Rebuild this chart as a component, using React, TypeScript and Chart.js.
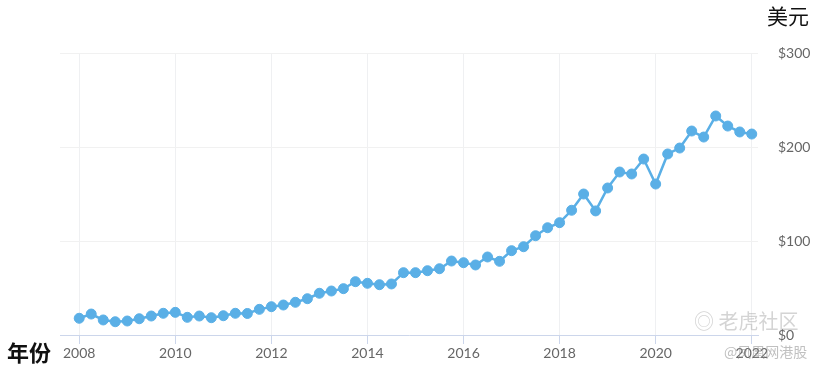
import React, { useEffect, useRef } from "react";
import { Chart, registerables } from "chart.js";

Chart.register(...registerables);

// Quarterly periods, 2008 Q1 .. 2022 Q1
const quarters: string[] = [
  "2008Q1","2008Q2","2008Q3","2008Q4",
  "2009Q1","2009Q2","2009Q3","2009Q4",
  "2010Q1","2010Q2","2010Q3","2010Q4",
  "2011Q1","2011Q2","2011Q3","2011Q4",
  "2012Q1","2012Q2","2012Q3","2012Q4",
  "2013Q1","2013Q2","2013Q3","2013Q4",
  "2014Q1","2014Q2","2014Q3","2014Q4",
  "2015Q1","2015Q2","2015Q3","2015Q4",
  "2016Q1","2016Q2","2016Q3","2016Q4",
  "2017Q1","2017Q2","2017Q3","2017Q4",
  "2018Q1","2018Q2","2018Q3","2018Q4",
  "2019Q1","2019Q2","2019Q3","2019Q4",
  "2020Q1","2020Q2","2020Q3","2020Q4",
  "2021Q1","2021Q2","2021Q3","2021Q4",
  "2022Q1",
];

// Price in US dollars
const prices: number[] = [
  17.8, 22.3, 16.0, 14.1, 14.9, 17.3, 20.2, 23.1,
  24.1, 18.8, 20.2, 18.4, 20.5, 23.1, 22.9, 27.3,
  30.1, 31.9, 34.8, 38.6, 44.4, 46.8, 49.3, 56.7,
  55.0, 53.5, 54.3, 66.3, 66.3, 68.4, 70.5, 78.7,
  76.9, 74.5, 83.0, 78.4, 89.7, 93.9, 105.6, 114.1,
  119.5, 132.7, 150.0, 132.0, 156.4, 173.4, 171.3, 187.2,
  160.6, 192.6, 198.9, 217.0, 210.6, 233.0, 222.3, 216.0,
  213.8,
];

const xTickYears: number[] = [2008, 2010, 2012, 2014, 2016, 2018, 2020, 2022];
const yTickValues: number[] = [0, 100, 200, 300];

const yAxisTitle = "美元";
const xAxisTitle = "年份";

const toYear = (q: string) => {
  const y = parseInt(q.slice(0, 4), 10);
  const n = parseInt(q.slice(5), 10);
  return y + (n - 1) * 0.25;
};

export default function App() {
  const ref = useRef<HTMLCanvasElement | null>(null);

  useEffect(() => {
    if (!ref.current) return;
    const points = quarters.map((q, i) => ({ x: toYear(q), y: prices[i] }));
    const color = "#5aafe6";
    const chart = new Chart(ref.current, {
      type: "line",
      data: {
        datasets: [
          {
            data: points,
            borderColor: color,
            backgroundColor: color,
            borderWidth: 2.5,
            pointRadius: 5,
            pointBorderWidth: 1,
            pointBorderColor: color,
            pointBackgroundColor: color,
            tension: 0,
          },
        ],
      },
      options: {
        responsive: false,
        animation: false,
        devicePixelRatio: 1,
        layout: { padding: { left: 60, top: 53, right: 0, bottom: 0 } },
        plugins: { legend: { display: false }, tooltip: { enabled: false } },
        scales: {
          x: {
            type: "linear",
            min: 2007.6,
            max: 2022.13,
            afterBuildTicks: (s: any) => {
              s.ticks = xTickYears.map((v) => ({ value: v }));
            },
            afterFit: (s: any) => {
              s.height = 35;
            },
            grid: {
              color: "#eff0f2",
              tickColor: "#ccd6eb",
              tickLength: 9,
              drawTicks: true,
            },
            border: { color: "#ccd6eb", width: 1 },
            ticks: {
              color: "#666666",
              font: { family: "Lato", size: 14 },
              padding: 1,
              maxRotation: 0,
              callback: (v: any) => String(v),
            },
          },
          y: {
            position: "right",
            min: 0,
            max: 300,
            afterBuildTicks: (s: any) => {
              s.ticks = yTickValues.map((v) => ({ value: v }));
            },
            afterFit: (s: any) => {
              s.width = 65;
            },
            grid: { color: "#f1f1f1", drawTicks: false },
            border: { display: false },
            ticks: {
              color: "#666666",
              font: { family: "Lato", size: 14 },
              padding: 20,
              callback: (v: any) => "$" + v,
            },
          },
        },
      },
    });
    return () => chart.destroy();
  }, []);

  return (
    <div
      style={{
        position: "fixed",
        left: 0,
        top: 0,
        width: 823,
        height: 370,
        background: "#ffffff",
        overflow: "hidden",
      }}
    >
      <canvas ref={ref} width={823} height={370} style={{ width: 823, height: 370, display: "block" }} />
      <div
        style={{
          position: "absolute",
          left: 767,
          top: 2,
          fontFamily: "'Noto Sans CJK SC', sans-serif",
          fontSize: 21,
          color: "#111",
          lineHeight: "26px",
        }}
      >
        {yAxisTitle}
      </div>
      <div
        style={{
          position: "absolute",
          left: 7,
          top: 337,
          fontFamily: "'Noto Sans CJK SC', sans-serif",
          fontSize: 22,
          fontWeight: 700,
          color: "#111",
          lineHeight: "28px",
        }}
      >
        {xAxisTitle}
      </div>
      <div
        style={{
          position: "absolute",
          left: 694,
          top: 309,
          fontFamily: "'Noto Sans CJK SC', sans-serif",
          fontSize: 20,
          color: "rgba(160,160,160,0.45)",
          lineHeight: "24px",
          whiteSpace: "nowrap",
          pointerEvents: "none",
        }}
      >
        ◎ 老虎社区
      </div>
      <div
        style={{
          position: "absolute",
          left: 724,
          top: 342,
          fontFamily: "'Noto Sans CJK SC', sans-serif",
          fontSize: 14,
          color: "rgba(140,140,140,0.55)",
          lineHeight: "18px",
          whiteSpace: "nowrap",
          pointerEvents: "none",
        }}
      >
        @凤凰网港股
      </div>
    </div>
  );
}
